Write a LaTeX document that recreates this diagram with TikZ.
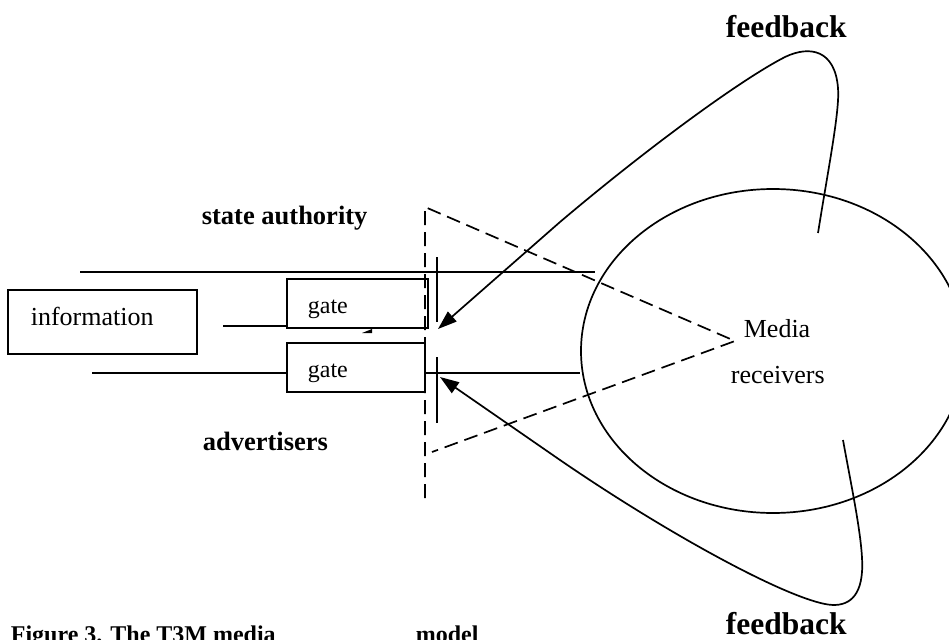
\documentclass[tikz,border=0pt]{standalone}
\usepackage{fontspec}
\setmainfont{Liberation Serif}
\usetikzlibrary{arrows.meta,shapes.geometric}

\begin{document}
\begin{tikzpicture}[x=1pt, y=-1pt, line width=1.7pt,
  box/.style={draw, rectangle, inner sep=0pt},
  dashline/.style={dash pattern=on 14pt off 7pt},
  txt/.style={inner sep=0pt, anchor=base west, font=\fontsize{26}{30}\selectfont},
  gatetxt/.style={inner sep=0pt, anchor=base west, font=\fontsize{24}{28}\selectfont},
  lbl/.style={inner sep=0pt, anchor=base west, font=\bfseries\fontsize{26.5}{30}\selectfont},
  fblbl/.style={inner sep=0pt, anchor=base west, font=\bfseries\fontsize{31.5}{36}\selectfont},
  captxt/.style={inner sep=0pt, anchor=base west, font=\bfseries\fontsize{24}{28}\selectfont},
  tip/.style={-{Triangle[length=19pt,width=13pt]}}]

\useasboundingbox (0,0) rectangle (949,639);
\clip (0,0) rectangle (949,639);

% boxes and the receivers' ellipse
\node[box, minimum width=189pt, minimum height=64pt] (info) at (102.5,322) {};
\node[box, minimum width=141pt, minimum height=49pt] (gate1) at (357.5,303.5) {};
\node[box, minimum width=138pt, minimum height=49pt] (gate2) at (356,367.5) {};
\node[draw, ellipse, inner sep=0pt, minimum width=384pt, minimum height=324pt] (recv) at (773,351) {};

% texts
\node[txt] (infotxt) at (30,325) {information};
\node[gatetxt] (g1txt) at (307,313) {gate};
\node[gatetxt] (g2txt) at (307,377) {gate};
\node[txt] (media) at (743,337) {Media};
\node[txt] (recvtxt) at (730,383) {receivers};
\node[lbl] (state) at (201,224) {state authority};
\node[lbl] (adv) at (202,450) {advertisers};
\node[fblbl] (fbtop) at (725,38) {feedback};
\node[fblbl] (fbbot) at (725,634) {feedback};
\node[captxt] (cap) at (10,642) {Figure 3. The T3M media};
\node[captxt] (capend) at (415,642) {model};

% channel lines
\coordinate (topL) at (80,272);
\coordinate (topR) at (595,272);
\coordinate (in1) at (223,326);
\coordinate (in2) at (92,373);
\coordinate (out2) at (425,373);
\draw (topL) -- (topR);
\draw (in1) -- (in1 -| gate1.west);
\draw (in2) -- (in2 -| gate2.west);
\draw (out2) -- (out2 -| recv.west);

% half-hidden arrowhead under the upper gate
\fill (362,333) -- (372,329) -- (372,333) -- cycle;

% gate bars
\coordinate (b1t) at (437,257);
\coordinate (b1b) at (437,322);
\coordinate (b2t) at (437,357);
\coordinate (b2b) at (437,423);
\draw (b1t) -- (b1b);
\draw (b2t) -- (b2b);

% dashed wedge towards the receivers
\coordinate (wb) at (425,498);
\coordinate (wt) at (425,207);
\coordinate (apex) at (735,341);
\coordinate (wl) at (432,452);
\draw[dashline] (wb) -- (wt) -- (apex) -- (wl);

% feedback loops
\coordinate (f1s) at (818,233);
\coordinate (f1e) at (438,329);
\draw[tip] (f1s) .. controls (828,170) and (840,110) .. (838,88)
  .. controls (835,50) and (810,45) .. (785,57)
  .. controls (740,80) and (645,150) .. (560,222) -- (f1e);
\coordinate (f2s) at (843,440);
\coordinate (f2e) at (440,377);
\draw[tip] (f2s) .. controls (852,490) and (864,545) .. (862,572)
  .. controls (860,600) and (845,608) .. (825,604)
  .. controls (780,595) and (665,532) .. (560,460) -- (f2e);
\end{tikzpicture}
\end{document}
